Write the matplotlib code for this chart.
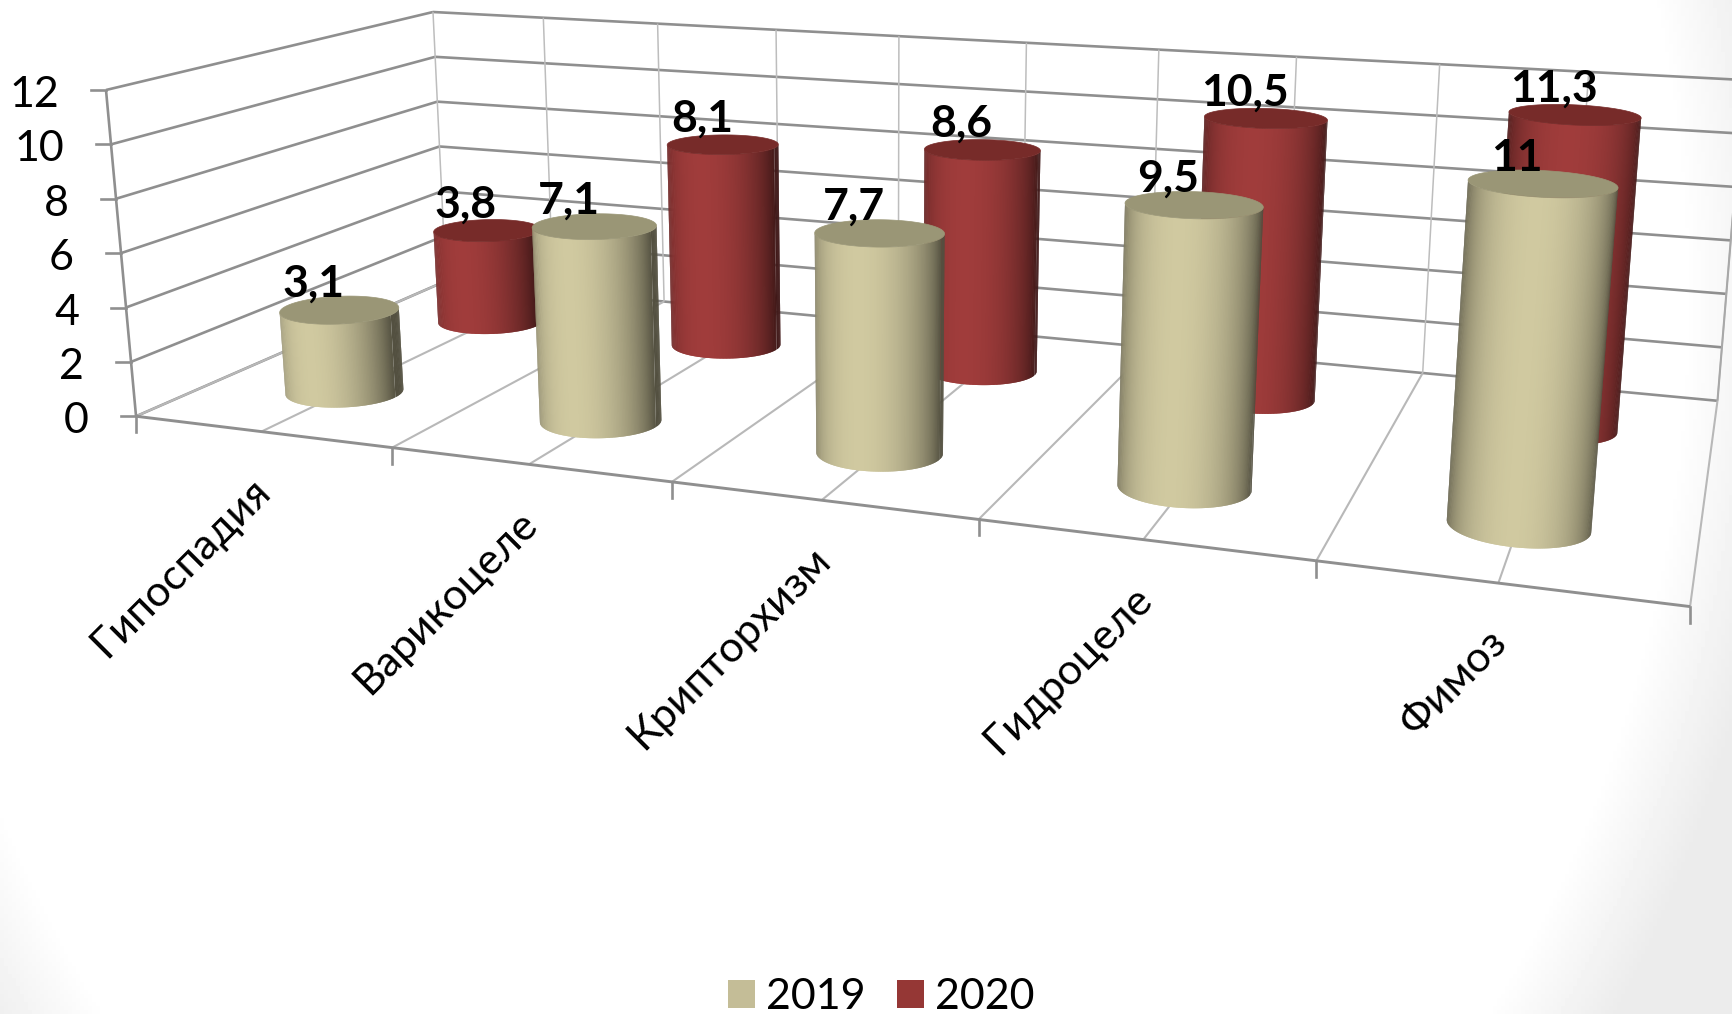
import numpy as np
import matplotlib
matplotlib.use("Agg")
import matplotlib.pyplot as plt
from matplotlib.collections import PolyCollection
from matplotlib.patches import Patch, Polygon
from matplotlib.colors import to_rgb

plt.rcParams["font.family"] = ["Lato", "Noto Sans", "DejaVu Sans"]

# Data
categories = ["Гипоспадия", "Варикоцеле", "Крипторхизм", "Гидроцеле", "Фимоз"]
values_2019 = [3.1, 7.1, 7.7, 9.5, 11]
values_2020 = [3.8, 8.1, 8.6, 10.5, 11.3]
y_ticks = [0, 2, 4, 6, 8, 10, 12]

W, H = 1733, 1014
Y_MAX = 12


def homography(src, dst):
    # least squares fit from box coordinates (u 0..5, d 0..1) to the screen
    A, b = [], []
    for (x, y), (X, Y) in zip(src, dst):
        A.append([x, y, 1, 0, 0, 0, -x * X, -y * X])
        A.append([0, 0, 0, x, y, 1, -x * Y, -y * Y])
        b += [X, Y]
    h = np.linalg.lstsq(np.array(A, float), np.array(b, float), rcond=None)[0]
    return np.append(h, 1).reshape(3, 3)


# floor: front edge ticks and back edge points
FLOOR = homography(
    [(0, 0), (1, 0), (2, 0), (3, 0), (4, 0), (5, 0), (0, 1), (1, 1), (2, 1), (3, 1), (4, 1), (5, 1)],
    [(136, 415), (392, 447), (672, 482), (979, 519), (1317, 562), (1689, 608),
     (446, 282), (664, 302), (898, 324), (1150, 347), (1424, 372), (1717, 400)],
)
ROOF = homography(
    [(0, 0), (5, 0), (5, 1), (0, 1)],
    [(106, 90), (1727, 200), (1744, 80), (433, 12)],
)


def apply_h(m, u, d):
    u, d = np.asarray(u, float), np.asarray(d, float)
    w = m[2, 0] * u + m[2, 1] * d + m[2, 2]
    return (m[0, 0] * u + m[0, 1] * d + m[0, 2]) / w, (m[1, 0] * u + m[1, 1] * d + m[1, 2]) / w


def project(u, d, z):
    x0, y0 = apply_h(FLOOR, u, d)
    x1, y1 = apply_h(ROOF, u, d)
    t = np.asarray(z, float) / Y_MAX
    return x0 + (x1 - x0) * t, y0 + (y1 - y0) * t


def line3d(ax, p, q, **kw):
    x0, y0 = project(*p)
    x1, y1 = project(*q)
    ax.plot([x0, x1], [y0, y1], solid_capstyle="butt", **kw)


def cylinder(ax, u, d, value, bright, top_color, zorder):
    ru, rd = 0.205, 0.095
    th = np.radians(np.arange(0, 361, 1.5))
    cu = u + ru * np.cos(th)
    cd = d + rd * np.sin(th)
    bx, by = project(cu, cd, 0 * cu)
    tx, ty = project(cu, cd, value + 0 * cu)
    bright = np.array(to_rgb(bright))
    faces = []
    for i in range(len(th) - 2):
        # keep the faces turned towards the viewer
        area = (bx[i + 1] - bx[i]) * (ty[i] - by[i]) - (by[i + 1] - by[i]) * (tx[i] - bx[i])
        if area > 0:
            continue
        # each strip runs over the next one so no seams show
        quad = [(bx[i], by[i]), (bx[i + 2], by[i + 2]), (tx[i + 2], ty[i + 2]), (tx[i], ty[i])]
        shade = max(np.cos(th[i] + np.pi / 2), 0)
        faces.append((bx[i], quad, bright * (0.4 + 0.6 * shade)))
    faces.sort(key=lambda f: f[0])
    ax.add_collection(PolyCollection([f[1] for f in faces], facecolors=[f[2] for f in faces],
                                     edgecolors="none", zorder=zorder))
    ax.add_patch(Polygon(np.column_stack([tx, ty]), closed=True, facecolor=top_color,
                         edgecolor=top_color, linewidth=0.5, zorder=zorder + 0.1))


fig = plt.figure(figsize=(W / 100, H / 100), dpi=100)
ax = fig.add_axes([0, 0, 1, 1])
ax.set_xlim(0, W)
ax.set_ylim(H, 0)
ax.axis("off")

# white ellipse fading to light grey in the slide corners
yy, xx = np.mgrid[0:H:254j, 0:W:434j]
r = np.hypot((xx - 796) / 872, (yy - 300) / 1110)
bg = 1 - 0.075 * np.clip((r - 1.02) / 0.12, 0, 1)
ax.imshow(bg, extent=(0, W, H, 0), cmap="gray", vmin=0, vmax=1, aspect="auto", zorder=-5)
ax.set_xlim(0, W)
ax.set_ylim(H, 0)

# Walls
WALL = dict(color="#8f8f8f", lw=1.9, zorder=1)
THIN = dict(color="#bdbdbd", lw=1.1, zorder=1)
FLOOR_LINE = dict(color="#b8b8b8", lw=1.5, zorder=1)
for z in y_ticks:
    line3d(ax, (0, 0, z), (0, 1, z), **WALL)
    line3d(ax, (0, 1, z), (5, 1, z), **WALL)
    x, y = project(0, 0, z)
    ax.plot([x - 15, x], [y, y], **WALL)
    ax.text(x - 47, y + 5, str(z), ha="right", va="center", fontsize=31, color="black")

# half-category lines on the back wall and floor
for k in np.arange(0, 5.5, 0.5):
    line3d(ax, (k, 1, 0), (k, 1, 12), **THIN)
    line3d(ax, (k, 0, 0), (k, 1, 0), **FLOOR_LINE)

line3d(ax, (0, 0, 0), (0, 0, 12), **WALL)
line3d(ax, (0, 0, 0), (5, 0, 0), color="#8f8f8f", lw=2.1, zorder=1.5)
line3d(ax, (5, 1, 0), (5, 1, 12), color="#a8a8a8", lw=1.5, zorder=1)
for k in range(6):
    x, y = project(k, 0, 0)
    ax.plot([x, x], [y, y + 16], **WALL)

# Cylinders, back row first
DEPTH_2019, DEPTH_2020 = 0.245, 0.75
for i, v in enumerate(values_2020):
    cylinder(ax, i + 0.5, DEPTH_2020, v, "#A03C3B", "#772B29", 2 + i * 0.01)
for i, v in enumerate(values_2019):
    cylinder(ax, i + 0.5, DEPTH_2019, v, "#D0C9A0", "#9A9676", 3 + i * 0.01)

# Value labels
for depth, values, dx in [(DEPTH_2020, values_2020, -21), (DEPTH_2019, values_2019, -26)]:
    for i, v in enumerate(values):
        x, y = project(i + 0.5, depth, v)
        ax.annotate(f"{v:g}".replace(".", ","), (x, y), xytext=(dx, 26),
                    textcoords="offset pixels", ha="center", va="center",
                    fontsize=32, fontweight="bold", color="black", zorder=6)

# Category labels
for i, name in enumerate(categories):
    x, y = project(i + 0.5, 0, 0)
    ax.text(x + 2, y + 53, name, rotation=45, rotation_mode="anchor", ha="right", va="center",
            fontsize=31, color="black", zorder=6)

handles = [Patch(facecolor="#C4BD97", label="2019"), Patch(facecolor="#953735", label="2020")]
ax.legend(handles=handles, ncols=2, frameon=False, fontsize=31, loc="center",
          bbox_to_anchor=(881, 997), bbox_transform=ax.transData, handlelength=0.63,
          handleheight=0.63, handletextpad=0.25, columnspacing=0.74, borderpad=0)

fig.savefig("out.png", dpi=100)
